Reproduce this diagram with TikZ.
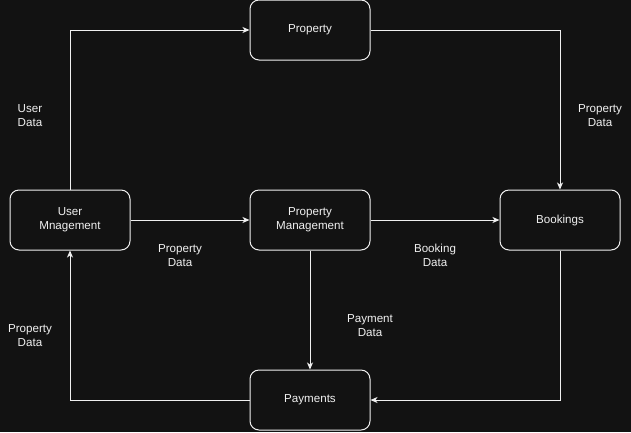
\documentclass[tikz,border=0pt]{standalone}
\usepackage{fontspec}
\setmainfont{Liberation Sans}
\usetikzlibrary{arrows.meta}
\definecolor{bg}{HTML}{121212}
\definecolor{fg}{HTML}{F0F0F0}
\tikzset{
  box/.style={draw=fg, fill=bg, line width=1pt, rounded corners=9pt, minimum width=120pt, minimum height=60pt, inner sep=0pt, text=fg, align=center, font=\fontsize{11.6}{14}\selectfont},
  lbl/.style={text=fg, align=center, font=\fontsize{11.6}{14}\selectfont, inner sep=0pt},
  conn/.style={draw=fg, line width=1pt, -{Stealth[length=7pt,width=6pt,inset=2pt]}}
}
\begin{document}
\begin{tikzpicture}[x=1pt,y=-1pt]
\fill[bg] (0,0) rectangle (631,432);
\useasboundingbox (0,0) rectangle (631,432);
\node[box] (prop) at (310,30) {\raisebox{-1pt}{Property}};
\node[box] (user) at (70,220) {User\\Mnagement};
\node[box] (pm) at (310,220) {Property\\Management};
\node[box] (book) at (560,220) {\raisebox{-1pt}{Bookings}};
\node[box] (pay) at (310,400) {\raisebox{-1pt}{Payments}};
\draw[conn] (user.north) |- (prop.west);
\draw[conn] (prop.east) -| (book.north);
\draw[conn] (user.east) -- (pm.west);
\draw[conn] (pm.east) -- (book.west);
\draw[conn] (pm.south) -- (pay.north);
\draw[conn] (book.south) |- (pay.east);
\draw[conn] (pay.west) -| (user.south);
\node[lbl, align=left] (l1) at (30,115.5) {User\\Data};
\node[lbl] (l2) at (600,115.5) {Property\\Data};
\node[lbl] (l3) at (180,255.5) {Property\\Data};
\node[lbl] (l4) at (435,255.5) {Booking\\Data};
\node[lbl] (l5) at (370,325.5) {Payment\\Data};
\node[lbl] (l6) at (30,335.5) {Property\\Data};
\end{tikzpicture}
\end{document}
